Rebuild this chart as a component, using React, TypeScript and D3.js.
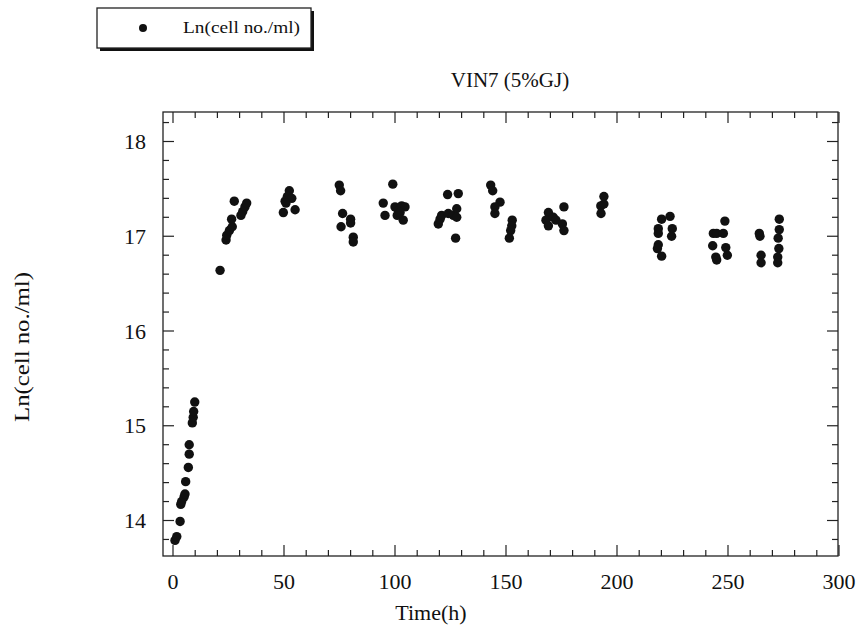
import React from "react";
import * as d3 from "d3";

const timeH: number[] = [
  0.9, 1.7, 3.2, 3.5, 3.9, 5.0, 5.4, 5.7, 6.9, 7.3, 7.3, 8.7, 9.1, 9.3, 9.8,
  21.2, 23.9, 24.2, 25.4, 26.7, 26.4, 27.6, 30.6, 31.4, 32.4, 33.2,
  49.7, 52.4, 51.5, 50.5, 53.5, 55.0, 50.9,
  74.9, 75.5, 76.4, 75.7, 80.0, 80.0, 81.2, 81.2,
  99.0, 94.7, 95.5, 100.0, 101.5, 103.0, 104.5, 101.0, 103.7, 102.3,
  123.7, 128.5, 119.5, 120.3, 121.0, 124.0, 126.3, 127.8, 127.8, 127.3,
  143.1, 144.0, 147.3, 145.0, 145.0, 152.8, 152.6, 152.1, 151.5,
  169.1, 168.0, 169.1, 171.3, 172.5, 176.1, 175.4, 176.1,
  194.1, 192.7, 194.1, 192.8,
  220.1, 218.6, 218.6, 218.6, 218.2, 220.1, 223.9, 224.9, 224.6,
  243.4, 244.9, 247.9, 248.6, 243.1, 244.5, 244.9, 249.0, 249.7,
  264.1, 264.4, 264.9, 264.9, 273.1, 273.1, 272.6, 272.9, 272.4, 272.4,
];

const lnCells: number[] = [
  13.79, 13.83, 13.99, 14.17, 14.2, 14.25, 14.28, 14.41, 14.56, 14.7, 14.8, 15.03, 15.09, 15.15, 15.25,
  16.64, 16.96, 17.01, 17.06, 17.1, 17.18, 17.37, 17.22, 17.26, 17.31, 17.35,
  17.25, 17.48, 17.42, 17.37, 17.4, 17.28, 17.35,
  17.54, 17.48, 17.24, 17.1, 17.18, 17.14, 16.99, 16.94,
  17.55, 17.35, 17.22, 17.31, 17.27, 17.32, 17.31, 17.22, 17.17, 17.25,
  17.44, 17.45, 17.13, 17.18, 17.22, 17.24, 17.22, 17.29, 17.2, 16.98,
  17.54, 17.48, 17.36, 17.31, 17.24, 17.17, 17.11, 17.06, 16.98,
  17.25, 17.17, 17.11, 17.2, 17.17, 17.31, 17.13, 17.06,
  17.42, 17.32, 17.34, 17.24,
  17.18, 17.08, 17.03, 16.91, 16.87, 16.79, 17.21, 17.08, 17.0,
  17.03, 17.03, 17.03, 17.16, 16.9, 16.78, 16.75, 16.88, 16.8,
  17.03, 17.0, 16.8, 16.72, 17.18, 17.07, 16.98, 16.87, 16.78, 16.72,
];

const xTickLabels: number[] = [0, 50, 100, 150, 200, 250, 300];
const yTickLabels: number[] = [14, 15, 16, 17, 18];

const title = "VIN7 (5%GJ)";
const xTitle = "Time(h)";
const yTitle = "Ln(cell no./ml)";
const legendLabel = "Ln(cell no./ml)";

const W = 868;
const H = 634;
const frame = { left: 163, right: 838, top: 112, bottom: 556 };
const FONT = "'Liberation Serif', 'Times New Roman', serif";

export default function App() {
  const x = d3.scaleLinear().domain([0, 300]).range([173, 839]);
  const y = d3.scaleLinear().domain([14, 18]).range([520.5, 141.5]);

  const xMinor = d3.range(0, 301, 10);
  const yMinor = d3.range(13.8, 18.31, 0.2).map((v) => Math.round(v * 10) / 10);
  const isMajorX = (v: number) => v % 50 === 0;
  const isMajorY = (v: number) => Math.abs(v - Math.round(v)) < 1e-6;

  const stroke = "#222";

  return (
    <svg
      width={W}
      height={H}
      style={{ position: "absolute", left: 0, top: 0, background: "#fff" }}
      fontFamily={FONT}
    >
      <rect x={0} y={0} width={W} height={H} fill="#fff" />

      {/* legend */}
      <rect x={100} y={11} width={214} height={40} fill="#111" />
      <rect x={97} y={8} width={214} height={40} fill="#fff" stroke={stroke} strokeWidth={1.3} />
      <circle cx={143} cy={28} r={4} fill="#111" />
      <text x={183} y={33} fontSize={17} fill="#111" textLength={117} lengthAdjust="spacingAndGlyphs">
        {legendLabel}
      </text>

      {/* title */}
      <text x={510} y={87} fontSize={21} textAnchor="middle" fill="#111">
        {title}
      </text>

      {/* frame */}
      <rect
        x={frame.left}
        y={frame.top}
        width={frame.right - frame.left}
        height={frame.bottom - frame.top}
        fill="none"
        stroke={stroke}
        strokeWidth={1.3}
      />

      {/* x ticks bottom/top */}
      {xMinor.map((v) => {
        const len = isMajorX(v) ? 11 : 6;
        return (
          <g key={"xt" + v}>
            <line x1={x(v)} x2={x(v)} y1={frame.bottom} y2={frame.bottom - len} stroke={stroke} strokeWidth={1.2} />
            <line x1={x(v)} x2={x(v)} y1={frame.top} y2={frame.top + len} stroke={stroke} strokeWidth={1.2} />
          </g>
        );
      })}

      {/* y ticks left/right */}
      {yMinor.map((v) => {
        const len = isMajorY(v) ? 11 : 6;
        return (
          <g key={"yt" + v}>
            <line x1={frame.left} x2={frame.left + len} y1={y(v)} y2={y(v)} stroke={stroke} strokeWidth={1.2} />
            <line x1={frame.right} x2={frame.right - len} y1={y(v)} y2={y(v)} stroke={stroke} strokeWidth={1.2} />
          </g>
        );
      })}

      {/* x tick labels */}
      {xTickLabels.map((v) => (
        <text key={"xl" + v} x={x(v)} y={589} fontSize={22} textAnchor="middle" fill="#111">
          {v}
        </text>
      ))}

      {/* y tick labels */}
      {yTickLabels.map((v) => (
        <text key={"yl" + v} x={146} y={y(v) + 7.5} fontSize={22} textAnchor="end" fill="#111">
          {v}
        </text>
      ))}

      {/* axis titles */}
      <text x={431} y={620} fontSize={22} textAnchor="middle" fill="#111">
        {xTitle}
      </text>
      <text
        x={0}
        y={0}
        fontSize={22}
        textAnchor="middle"
        fill="#111"
        textLength={150}
        lengthAdjust="spacingAndGlyphs"
        transform={`translate(29, 347) rotate(-90)`}
      >
        {yTitle}
      </text>

      {/* data */}
      {timeH.map((t, i) => (
        <circle key={"p" + i} cx={x(t)} cy={y(lnCells[i])} r={4.7} fill="#111" />
      ))}
    </svg>
  );
}
